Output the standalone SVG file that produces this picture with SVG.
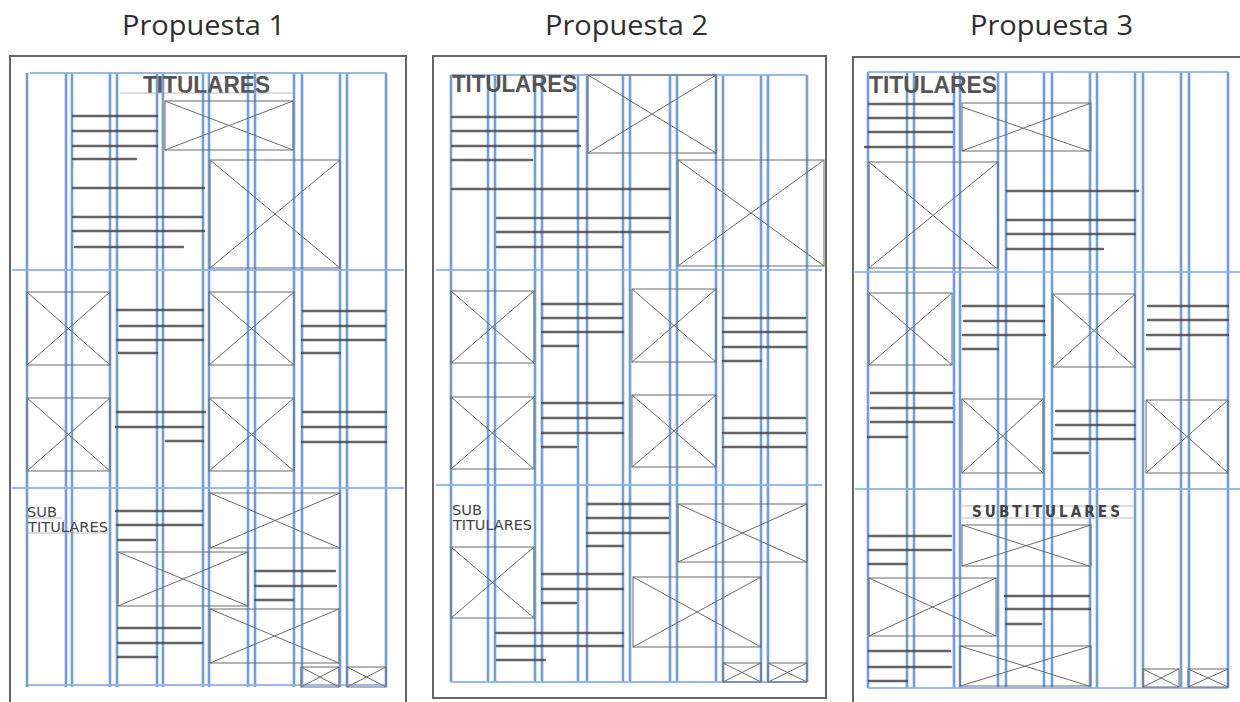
<svg xmlns="http://www.w3.org/2000/svg" width="1240" height="702" viewBox="0 0 1240 702">
<defs>
<style>
.title{font-family:"Open Sans","Liberation Sans",sans-serif;font-size:27px;fill:#2e2e2e}
.frame{fill:none;stroke:#666;stroke-width:2}
.gv{stroke:#5b8ed6;stroke-width:2;opacity:.8}
.gv2{stroke:#9dbde9;stroke-width:4;opacity:.45}
.gh{stroke:#8fb2e6;stroke-width:2;opacity:.9}
.t{stroke:#4a4a4a;stroke-width:2.4;stroke-linecap:round;opacity:.85}
.img rect{fill:none;stroke:#6a6a6a;stroke-width:1}
.img path{fill:none;stroke:#6a6a6a;stroke-width:1}
.head{font-family:"Liberation Sans","DejaVu Sans",sans-serif;font-weight:bold;fill:#555}
.sub{font-family:"DejaVu Sans Condensed","Liberation Sans",sans-serif;fill:#444}
.thin{stroke:#aaa;stroke-width:.8}
</style>
</defs>
<rect width="1240" height="702" fill="#fff"/>
<text class="title" x="122" y="35" textLength="163" lengthAdjust="spacingAndGlyphs">Propuesta 1</text>
<text class="title" x="545" y="35" textLength="163" lengthAdjust="spacingAndGlyphs">Propuesta 2</text>
<text class="title" x="970" y="35" textLength="163" lengthAdjust="spacingAndGlyphs">Propuesta 3</text>

<!-- ===== PANEL 1 ===== -->
<g id="panel1">
<rect class="frame" x="10" y="56" width="396" height="660"/>
<g id="p1-grid">
<path class="gv2" d="M27 73V687M66 73V687M72 73V687M110 73V687M117 73V687M157 73V687M163 73V687M203 73V687M209 73V687M248 73V687M255 73V687M294 73V687M302 73V687M340 73V687M347 73V687M386 73V687"/>
<path class="gv" d="M27 73V687M66 73V687M72 73V687M110 73V687M117 73V687M157 73V687M163 73V687M203 73V687M209 73V687M248 73V687M255 73V687M294 73V687M302 73V687M340 73V687M347 73V687M386 73V687"/>
<path class="gh" d="M30 73H387M12 270H404M12 488H404M28 685H387"/>
</g>
<text class="head" x="143" y="93" font-size="24" textLength="127" lengthAdjust="spacingAndGlyphs">TITULARES</text>
<path class="thin" d="M120 93H293"/>
<path class="t" d="M73 116H157M73 131H157M73 146H157M73 159H136M73 188H204M73 217H202M73 231H204M75 247H183"/>
<g class="img"><rect x="165" y="101" width="128" height="49"/><path d="M165 101L293 150M165 150L293 101"/></g>
<g class="img"><rect x="210" y="160" width="130" height="108"/><path d="M210 160L340 268M210 268L340 160"/></g>
<g class="img"><rect x="27" y="292" width="83" height="73"/><path d="M27 292L110 365M27 365L110 292"/></g>
<g class="img"><rect x="209" y="292" width="85" height="73"/><path d="M209 292L294 365M209 365L294 292"/></g>
<path class="t" d="M117 310H203M120 326H203M117 340H203M119 353H157M303 311H385M302 326H385M302 340H385M302 353H340"/>
<g class="img"><rect x="27" y="398" width="83" height="73"/><path d="M27 398L110 471M27 471L110 398"/></g>
<g class="img"><rect x="209" y="398" width="85" height="73"/><path d="M209 398L294 471M209 471L294 398"/></g>
<path class="t" d="M117 412H205M116 427H203M166 441H203M303 412H386M302 427H386M302 442H386"/>
<text class="sub" x="27" y="517" font-size="14" textLength="30" lengthAdjust="spacingAndGlyphs">SUB</text>
<text class="sub" x="28" y="532" font-size="14" textLength="80" lengthAdjust="spacingAndGlyphs">TITULARES</text>
<path class="thin" d="M28 518H62M28 533H108"/>
<path class="t" d="M116 511H202M117 525H202M118 540H155"/>
<g class="img"><rect x="210" y="493" width="130" height="55"/><path d="M210 493L340 548M210 548L340 493"/></g>
<g class="img"><rect x="118" y="552" width="130" height="54"/><path d="M118 552L248 606M118 606L248 552"/></g>
<path class="t" d="M255 571H335M255 586H336M255 600H293"/>
<g class="img"><rect x="210" y="609" width="129" height="54"/><path d="M210 609L339 663M210 663L339 609"/></g>
<path class="t" d="M118 628H200M118 643H202M118 657H157"/>
<g class="img"><rect x="301" y="667" width="38" height="20"/><path d="M301 667L339 687M301 687L339 667"/></g>
<g class="img"><rect x="347" y="667" width="39" height="20"/><path d="M347 667L386 687M347 687L386 667"/></g>
</g>

<!-- ===== PANEL 2 ===== -->
<g id="panel2">
<rect class="frame" x="433" y="56" width="393" height="642"/>
<g id="p2-grid">
<path class="gv2" d="M451 75V682M488 75V682M495 75V682M535 75V682M542 75V682M578 75V682M587 75V682M623 75V682M630 75V682M670 75V682M677 75V682M716 75V682M723 75V682M761 75V682M768 75V682M807 75V682"/>
<path class="gv" d="M451 75V682M488 75V682M495 75V682M535 75V682M542 75V682M578 75V682M587 75V682M623 75V682M630 75V682M670 75V682M677 75V682M716 75V682M723 75V682M761 75V682M768 75V682M807 75V682"/>
<path class="gh" d="M451 75H807M436 270H822M436 485H822M451 682H807"/>
</g>
<text class="head" x="452" y="92" font-size="24" textLength="125" lengthAdjust="spacingAndGlyphs">TITULARES</text>
<g class="img"><rect x="588" y="75" width="128" height="78"/><path d="M588 75L716 153M588 153L716 75"/></g>
<path class="t" d="M452 117H576M452 131H577M452 146H580M452 160H532M452 189H669M497 218H670M497 232H668M497 247H622"/>
<g class="img"><rect x="678" y="160" width="146" height="106"/><path d="M678 160L824 266M678 266L824 160"/></g>
<g class="img"><rect x="451" y="291" width="83" height="72"/><path d="M451 291L534 363M451 363L534 291"/></g>
<g class="img"><rect x="632" y="289" width="84" height="73"/><path d="M632 289L716 362M632 362L716 289"/></g>
<path class="t" d="M542 304H622M542 318H622M542 332H623M542 346H578M723 318H805M723 332H806M723 347H806M723 361H761"/>
<g class="img"><rect x="451" y="397" width="83" height="72"/><path d="M451 397L534 469M451 469L534 397"/></g>
<g class="img"><rect x="632" y="395" width="84" height="72"/><path d="M632 395L716 467M632 467L716 395"/></g>
<path class="t" d="M542 403H623M542 418H622M542 433H623M542 447H576M723 418H805M723 433H805M723 447H806"/>
<text class="sub" x="452" y="515" font-size="14" textLength="30" lengthAdjust="spacingAndGlyphs">SUB</text>
<text class="sub" x="453" y="530" font-size="14" textLength="79" lengthAdjust="spacingAndGlyphs">TITULARES</text>
<path class="t" d="M588 504H669M587 518H668M587 533H669M587 546H623"/>
<g class="img"><rect x="678" y="504" width="129" height="58"/><path d="M678 504L807 562M678 562L807 504"/></g>
<g class="img"><rect x="451" y="547" width="83" height="71"/><path d="M451 547L534 618M451 618L534 547"/></g>
<path class="t" d="M542 574H623M542 589H623M542 603H576"/>
<g class="img"><rect x="633" y="577" width="128" height="70"/><path d="M633 577L761 647M633 647L761 577"/></g>
<path class="t" d="M496 633H623M497 646H623M497 660H545"/>
<g class="img"><rect x="723" y="663" width="38" height="19"/><path d="M723 663L761 682M723 682L761 663"/></g>
<g class="img"><rect x="768" y="663" width="39" height="19"/><path d="M768 663L807 682M768 682L807 663"/></g>
</g>

<!-- ===== PANEL 3 ===== -->
<g id="panel3">
<rect class="frame" x="853" y="57" width="400" height="660"/>
<g id="p3-grid">
<path class="gv2" d="M868 72V688M907 72V688M914 72V688M954 72V688M960 72V688M998 72V688M1006 72V688M1044 72V688M1052 72V688M1090 72V688M1097 72V688M1135 72V688M1143 72V688M1181 72V688M1189 72V688M1228 72V688"/>
<path class="gv" d="M868 72V688M907 72V688M914 72V688M954 72V688M960 72V688M998 72V688M1006 72V688M1044 72V688M1052 72V688M1090 72V688M1097 72V688M1135 72V688M1143 72V688M1181 72V688M1189 72V688M1228 72V688"/>
<path class="gh" d="M868 72H1228M855 272H1240M855 489H1240M868 688H1228"/>
</g>
<text class="head" x="869" y="93" font-size="24" textLength="128" lengthAdjust="spacingAndGlyphs">TITULARES</text>
<path class="t" d="M869 104H953M869 118H953M869 132H952M865 147H952"/>
<g class="img"><rect x="962" y="103" width="129" height="48"/><path d="M962 107L1089 151M962 151L1091 103"/></g>
<g class="img"><rect x="869" y="162" width="129" height="106"/><path d="M869 162L996 268M869 268L998 162"/></g>
<path class="t" d="M1007 191H1138M1007 220H1135M1007 234H1135M1007 249H1103"/>
<g class="img"><rect x="869" y="293" width="83" height="72"/><path d="M869 293L952 365M869 365L952 293"/></g>
<g class="img"><rect x="1053" y="294" width="82" height="73"/><path d="M1053 294L1135 367M1053 367L1135 294"/></g>
<path class="t" d="M963 306H1044M964 321H1044M963 335H1045M963 349H998M1148 306H1228M1148 320H1228M1147 335H1228M1147 349H1180"/>
<path class="t" d="M871 393H952M871 408H952M871 422H952M868 437H907"/>
<g class="img"><rect x="962" y="399" width="81" height="74"/><path d="M962 399L1043 473M962 473L1043 399"/></g>
<path class="t" d="M1056 411H1135M1056 425H1135M1054 439H1135M1054 453H1088"/>
<g class="img"><rect x="1146" y="400" width="82" height="73"/><path d="M1146 400L1228 473M1146 473L1228 400"/></g>
<path class="thin" d="M962 506H1133M962 518H1133"/>
<text class="sub" x="972" y="517" font-size="15" font-weight="bold" textLength="151" lengthAdjust="spacingAndGlyphs" letter-spacing="3">SUBTITULARES</text>
<g class="img"><rect x="962" y="525" width="129" height="41"/><path d="M962 525L1089 566M962 566L1091 525"/></g>
<path class="t" d="M869 536H951M869 550H951M869 564H907"/>
<g class="img"><rect x="869" y="578" width="127" height="58"/><path d="M869 578L996 636M869 636L996 578"/></g>
<path class="t" d="M1005 596H1089M1006 609H1090M1006 624H1041"/>
<path class="t" d="M869 651H950M869 667H951M869 681H907"/>
<g class="img"><rect x="960" y="646" width="131" height="40"/><path d="M960 646L1089 686M960 686L1091 646"/></g>
<g class="img"><rect x="1143" y="669" width="36" height="18"/><path d="M1143 669L1179 687M1143 687L1179 669"/></g>
<g class="img"><rect x="1188" y="669" width="40" height="18"/><path d="M1188 669L1228 687M1188 687L1228 669"/></g>
</g>
</svg>
